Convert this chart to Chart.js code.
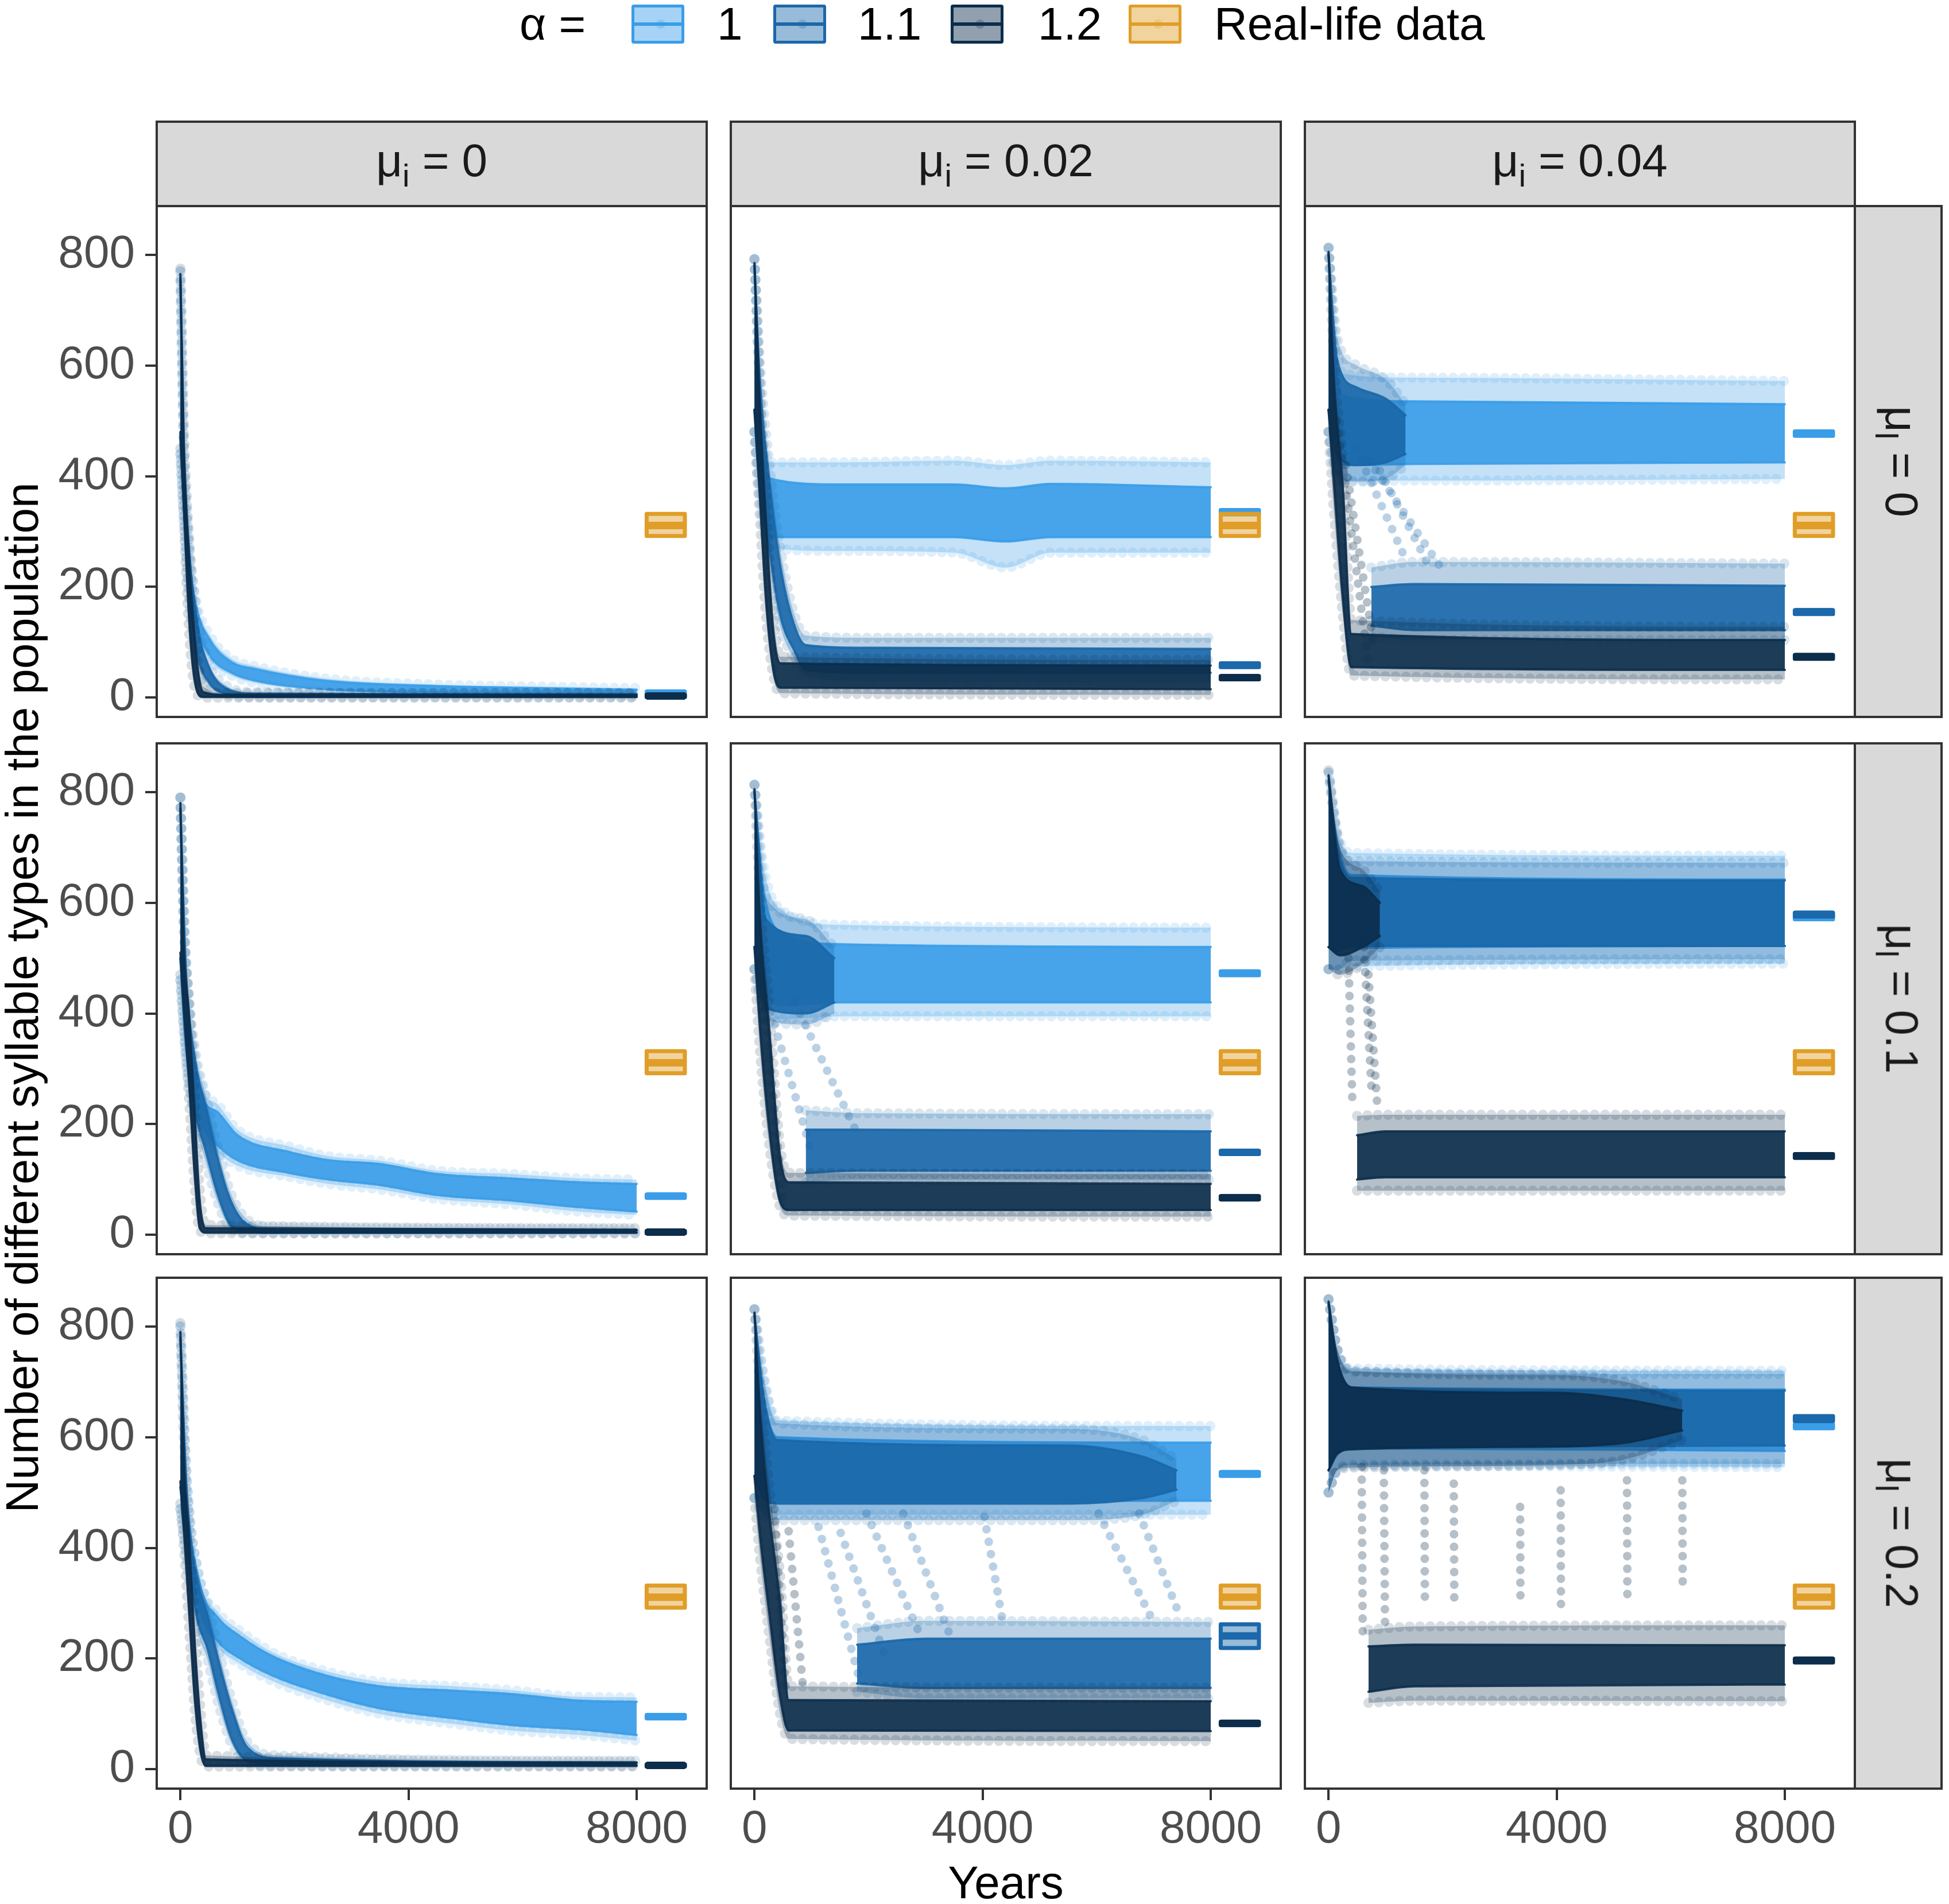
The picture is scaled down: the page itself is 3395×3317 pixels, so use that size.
<!DOCTYPE html>
<html>
<head>
<meta charset="utf-8">
<script src="https://cdn.jsdelivr.net/npm/chart.js@4.4.1/dist/chart.umd.min.js"></script>
<style>
body { margin: 0; width: 3395px; height: 3317px; background: #fff; position: relative; overflow: hidden;
       font-family: 'Liberation Sans', Arial, sans-serif; }
canvas { position: absolute; }
.strip { position: absolute; background: #d9d9d9; border: 4px solid #333; box-sizing: border-box;
         display: flex; align-items: center; justify-content: center; font-size: 80px; color: #1a1a1a; }
.strip sub { font-size: 56px; vertical-align: -18px; }
.strip.side span { display: inline-block; transform: rotate(90deg); white-space: nowrap; }
.lab { position: absolute; font-size: 80px; color: #000; white-space: nowrap; line-height: 90px; }
.key { position: absolute; top: 8px; width: 92px; height: 68px; box-sizing: border-box; border: 5px solid; border-radius: 4px; }
.key i { position: absolute; left: 0; right: 0; top: 26px; height: 6px; }
.key b { position: absolute; left: 38px; top: 21px; width: 16px; height: 16px; border-radius: 8px; }
</style>
</head>
<body>
<div id="page"></div>
<script>
// facet labels and ticks
var innovationRates = ['0', '0.02', '0.04'];   // columns, mu_i
var learningRates = ['0', '0.1', '0.2'];       // rows, mu_l
var alphaLevels = ['1', '1.1', '1.2'];
var yearTicks = [0, 4000, 8000];
var countTicks = [0, 200, 400, 600, 800];

// simulation clouds
// each row: [year, outer low, core low, core high, outer high]
var cloud_i0_l0_a1 = [[0, 440, 470, 755, 770], [60, 330, 350, 420, 440], [150, 200, 215, 260, 275], [270, 128, 138, 168, 178],
  [520, 68, 76, 104, 112], [900, 40, 45, 64, 70], [1300, 27, 31, 52, 57], [2500, 13, 16, 31, 35], [4400, 8, 10, 21, 24],
  [6300, 6, 8, 17, 20], [8000, 5, 7, 14, 17]];
var cloud_i0_l0_a11 = [[0, 440, 470, 755, 770], [60, 320, 345, 440, 460], [150, 180, 200, 270, 290], [300, 65, 78, 130, 145],
  [500, 22, 28, 55, 62], [800, 5, 7, 17, 22], [1300, 1, 2, 7, 10], [8000, 1, 2, 5, 8]];
var cloud_i0_l0_a12 = [[0, 450, 480, 765, 775], [60, 320, 350, 460, 490], [120, 180, 205, 310, 340], [200, 55, 75, 175, 200],
  [300, 5, 10, 55, 75], [400, 0, 1, 10, 20], [800, 0, 1, 5, 8], [8000, 0, 1, 5, 8]];

var cloud_i002_l0_a1 = [[0, 480, 520, 780, 792], [60, 390, 420, 580, 620], [150, 310, 330, 440, 470], [300, 270, 290, 395, 425],
  [1500, 265, 290, 385, 425], [3500, 262, 290, 385, 428], [4400, 235, 282, 378, 420], [5200, 262, 290, 386, 428], [8000, 262, 290, 380, 425]];
var cloud_i002_l0_a11 = [[0, 480, 520, 780, 792], [100, 380, 420, 560, 600], [250, 250, 280, 400, 430], [450, 130, 150, 240, 270],
  [700, 70, 85, 130, 150], [900, 40, 50, 95, 112], [2000, 30, 45, 90, 108], [8000, 28, 45, 88, 108]];
var cloud_i002_l0_a12 = [[0, 480, 520, 785, 792], [80, 350, 390, 560, 600], [200, 150, 180, 320, 360], [330, 40, 50, 120, 150],
  [450, 8, 18, 62, 74], [8000, 5, 15, 58, 68]];

var cloud_i004_l0_a1 = [[0, 480, 520, 800, 812], [100, 420, 450, 630, 670], [250, 392, 420, 545, 585], [1500, 392, 422, 535, 578],
  [8000, 395, 425, 530, 572]];
var cloud_i004_l0_a11up = [[0, 480, 520, 800, 812], [150, 400, 440, 610, 650], [500, 390, 420, 560, 600], [1000, 395, 425, 540, 575],
  [1350, 420, 440, 510, 530]];
var cloud_i004_l0_a11low = [[750, 110, 130, 200, 235], [1500, 104, 122, 205, 245], [8000, 104, 122, 202, 242]];
var cloud_i004_l0_a12 = [[0, 480, 520, 805, 813], [100, 330, 380, 560, 600], [250, 150, 180, 380, 420], [400, 40, 55, 115, 140],
  [8000, 33, 50, 104, 128]];

var cloud_i0_l01_a1 = [[0, 460, 500, 770, 790], [80, 330, 360, 480, 520], [200, 240, 260, 340, 360], [400, 180, 195, 245, 260],
  [650, 150, 162, 222, 236], [1000, 125, 135, 180, 190], [1900, 105, 112, 150, 160], [2600, 92, 100, 135, 142],
  [3500, 82, 90, 128, 134], [4500, 65, 72, 110, 116], [5800, 55, 62, 102, 110], [7000, 42, 50, 95, 102], [8000, 36, 42, 92, 100]];
var cloud_i0_l01_a11 = [[0, 460, 500, 770, 790], [100, 330, 360, 470, 500], [250, 210, 230, 320, 340], [450, 130, 150, 230, 250],
  [650, 60, 75, 140, 160], [850, 15, 22, 70, 85], [1100, 4, 6, 25, 35], [1600, 3, 4, 10, 15], [8000, 3, 4, 8, 12]];
var cloud_i0_l01_a12 = [[0, 470, 510, 780, 790], [60, 380, 410, 520, 550], [150, 250, 280, 400, 430], [250, 90, 110, 220, 250],
  [340, 8, 12, 60, 80], [450, 3, 4, 12, 18], [8000, 3, 4, 9, 12]];

var cloud_i002_l01_a1 = [[0, 480, 520, 800, 813], [150, 420, 450, 630, 670], [500, 390, 415, 545, 585], [1500, 395, 420, 525, 560],
  [8000, 395, 420, 520, 555]];
var cloud_i002_l01_a11up = [[0, 480, 520, 800, 813], [200, 390, 410, 570, 610], [900, 380, 400, 540, 570], [1400, 400, 420, 500, 520]];
var cloud_i002_l01_a11low = [[900, 95, 112, 190, 225], [1800, 100, 116, 190, 220], [8000, 100, 116, 187, 218]];
var cloud_i002_l01_a12 = [[0, 480, 520, 805, 813], [100, 330, 370, 560, 600], [250, 170, 200, 380, 420], [450, 50, 60, 140, 160],
  [600, 35, 45, 95, 112], [8000, 33, 45, 92, 110]];

var cloud_i004_l01_a1 = [[0, 480, 520, 820, 835], [150, 480, 515, 710, 730], [400, 485, 518, 650, 690], [8000, 490, 522, 642, 685]];
var cloud_i004_l01_a11 = [[0, 480, 520, 820, 835], [150, 478, 512, 700, 720], [400, 495, 522, 645, 675], [8000, 498, 522, 640, 672]];
var cloud_i004_l01_a12up = [[0, 480, 520, 830, 839], [200, 470, 505, 660, 700], [600, 490, 520, 630, 660], [900, 520, 540, 600, 620]];
var cloud_i004_l01_a12low = [[500, 80, 100, 180, 215], [1000, 80, 104, 187, 217], [8000, 80, 104, 187, 217]];

var cloud_i0_l02_a1 = [[0, 470, 510, 780, 800], [100, 400, 430, 520, 545], [340, 280, 290, 335, 345], [650, 222, 232, 275, 285],
  [1050, 190, 200, 240, 250], [1600, 160, 170, 205, 212], [2600, 124, 134, 168, 176], [3500, 100, 110, 150, 158],
  [4800, 82, 92, 142, 150], [5800, 70, 80, 136, 143], [7000, 62, 72, 124, 131], [8000, 52, 62, 122, 130]];
var cloud_i0_l02_a11 = [[0, 470, 510, 780, 800], [120, 370, 400, 480, 510], [300, 250, 270, 340, 360], [470, 200, 220, 280, 300],
  [660, 120, 140, 200, 220], [900, 45, 55, 110, 125], [1170, 12, 16, 40, 50], [1700, 6, 8, 20, 25], [8000, 6, 8, 12, 15]];
var cloud_i0_l02_a12 = [[0, 480, 520, 790, 806], [70, 390, 420, 540, 570], [150, 260, 290, 420, 450], [250, 110, 130, 230, 260],
  [350, 25, 35, 90, 110], [450, 5, 6, 18, 25], [8000, 5, 6, 12, 15]];

var cloud_i002_l02_a1 = [[0, 490, 530, 820, 831], [150, 470, 500, 680, 720], [400, 460, 485, 600, 630], [8000, 460, 485, 590, 620]];
var cloud_i002_l02_a11up = [[0, 490, 530, 820, 831], [150, 460, 490, 680, 710], [400, 450, 480, 595, 625], [5500, 450, 480, 585, 615],
  [6800, 460, 490, 565, 595], [7400, 485, 505, 540, 560]];
var cloud_i002_l02_a11low = [[1800, 140, 155, 225, 255], [3000, 128, 147, 236, 268], [8000, 128, 147, 236, 266]];
var cloud_i002_l02_a12 = [[0, 490, 530, 825, 831], [100, 380, 420, 640, 680], [250, 250, 290, 470, 520], [450, 100, 130, 300, 350],
  [600, 55, 70, 125, 150], [8000, 51, 69, 123, 147]];

var cloud_i004_l02_a1 = [[0, 500, 540, 840, 849], [150, 540, 568, 740, 760], [400, 548, 580, 690, 724], [8000, 546, 575, 686, 720]];
var cloud_i004_l02_a11 = [[0, 500, 540, 840, 849], [150, 540, 572, 740, 758], [400, 550, 582, 689, 718], [8000, 552, 585, 684, 714]];
var cloud_i004_l02_a12up = [[0, 500, 540, 845, 849], [150, 540, 570, 740, 760], [400, 545, 578, 690, 720], [4000, 550, 583, 680, 712],
  [5200, 560, 590, 668, 700], [6200, 595, 612, 648, 668]];
var cloud_i004_l02_a12low = [[700, 120, 140, 222, 252], [1500, 124, 150, 225, 258], [8000, 123, 153, 224, 260]];

// runs dropping from the upper to the lower level: [year start, value start, year end, value end]
var drops_i004_l0_a11 = [[700, 430, 2000, 230], [480, 450, 1350, 250], [900, 410, 1750, 240]];
var drops_i004_l0_a12 = [[150, 500, 700, 60], [300, 420, 800, 90]];
var drops_i002_l01_a11 = [[700, 420, 1770, 190], [350, 380, 1000, 150]];
var drops_i002_l01_a12 = [[100, 500, 500, 60]];
var drops_i004_l01_a12 = [[350, 500, 420, 230], [620, 520, 760, 250], [700, 470, 850, 240]];
var drops_i002_l02_a11 = [[1124, 438, 1835, 165], [1512, 427, 2287, 206], [1964, 462, 2933, 236], [2610, 462, 3450, 236],
  [4031, 456, 4354, 266], [6034, 462, 6938, 278], [6744, 462, 7455, 278]];
var drops_i002_l02_a12 = [[350, 470, 550, 140], [600, 430, 850, 150]];
var drops_i004_l02_a12 = [[581, 546, 600, 236], [969, 540, 990, 266], [1680, 540, 1690, 296], [2196, 516, 2205, 296],
  [3359, 474, 3365, 296], [4070, 504, 4075, 296], [5233, 522, 5240, 296], [6202, 522, 6210, 319]];

// final-state boxplots per alpha: [q1, median, q3]
var final_i0_l0 = [[6, 8, 11], [1, 3, 5], [1, 3, 5]];
var final_i002_l0 = [[331, 335, 339], [55, 59, 62], [33, 36, 39]];
var final_i004_l0 = [[473, 477, 481], [151, 155, 158], [70, 74, 77]];
var final_i0_l01 = [[67, 70, 73], [3, 5, 7], [3, 5, 7]];
var final_i002_l01 = [[469, 473, 476], [146, 149, 152], [64, 67, 70]];
var final_i004_l01 = [[570, 574, 577], [575, 579, 582], [139, 143, 146]];
var final_i0_l02 = [[92, 95, 98], [5, 7, 9], [5, 7, 9]];
var final_i002_l02 = [[530, 534, 537], [219, 241, 262], [80, 83, 86]];
var final_i004_l02 = [[616, 620, 623], [629, 634, 638], [193, 197, 200]];
var realLifeBox = [292, 311, 332];
var boxYears = [8175, 8845];

var alphaColors = ['58,157,232', '27,104,170', '12,45,75'];
var realColor = '224,158,40';

// panel layout (pixels)
var colLeft = [271, 1271, 2271], rowTop = [357, 1293, 2224];
var panelW = 962, panelH = 894, yAxisW = 271, xAxisH = 122;

var panels = [
  {row: 0, col: 0, clouds: [[0, cloud_i0_l0_a1], [1, cloud_i0_l0_a11], [2, cloud_i0_l0_a12]], drops: [], boxes: final_i0_l0},
  {row: 0, col: 1, clouds: [[0, cloud_i002_l0_a1], [1, cloud_i002_l0_a11], [2, cloud_i002_l0_a12]], drops: [], boxes: final_i002_l0},
  {row: 0, col: 2, clouds: [[0, cloud_i004_l0_a1], [1, cloud_i004_l0_a11up], [1, cloud_i004_l0_a11low], [2, cloud_i004_l0_a12]],
   drops: [[1, drops_i004_l0_a11], [2, drops_i004_l0_a12]], boxes: final_i004_l0},
  {row: 1, col: 0, clouds: [[0, cloud_i0_l01_a1], [1, cloud_i0_l01_a11], [2, cloud_i0_l01_a12]], drops: [], boxes: final_i0_l01},
  {row: 1, col: 1, clouds: [[0, cloud_i002_l01_a1], [1, cloud_i002_l01_a11up], [1, cloud_i002_l01_a11low], [2, cloud_i002_l01_a12]],
   drops: [[1, drops_i002_l01_a11], [2, drops_i002_l01_a12]], boxes: final_i002_l01},
  {row: 1, col: 2, clouds: [[0, cloud_i004_l01_a1], [1, cloud_i004_l01_a11], [2, cloud_i004_l01_a12up], [2, cloud_i004_l01_a12low]],
   drops: [[2, drops_i004_l01_a12]], boxes: final_i004_l01},
  {row: 2, col: 0, clouds: [[0, cloud_i0_l02_a1], [1, cloud_i0_l02_a11], [2, cloud_i0_l02_a12]], drops: [], boxes: final_i0_l02},
  {row: 2, col: 1, clouds: [[0, cloud_i002_l02_a1], [1, cloud_i002_l02_a11up], [1, cloud_i002_l02_a11low], [2, cloud_i002_l02_a12]],
   drops: [[1, drops_i002_l02_a11], [2, drops_i002_l02_a12]], boxes: final_i002_l02},
  {row: 2, col: 2, clouds: [[0, cloud_i004_l02_a1], [1, cloud_i004_l02_a11], [2, cloud_i004_l02_a12up], [2, cloud_i004_l02_a12low]],
   drops: [[2, drops_i004_l02_a12]], boxes: final_i004_l02}
];

function rgba(rgb, a) { return 'rgba(' + rgb + ',' + a + ')'; }

function lineSet(points, color, width) {
  return {data: points, showLine: true, borderColor: color, borderWidth: width, pointRadius: 0, fill: false,
          clip: 0, cubicInterpolationMode: 'monotone', borderJoinStyle: 'round'};
}

// a cloud = faint outer band with dotted (circle-like) edges + dense core band
function cloudSets(rows, rgb) {
  var sets = [];
  var layers = [
    {lo: 1, hi: 4, fillA: 0.3, lineA: 0.16, width: 18, dash: [0, 18]},
    {lo: 2, hi: 3, fillA: 0.9, lineA: 0.9, width: 4, dash: []}
  ];
  layers.forEach(function (l) {
    var bottom = lineSet(rows.map(function (r) { return {x: r[0], y: r[l.lo]}; }), rgba(rgb, l.lineA), l.width);
    var top = lineSet(rows.map(function (r) { return {x: r[0], y: r[l.hi]}; }), rgba(rgb, l.lineA), l.width);
    bottom.borderDash = top.borderDash = l.dash;
    bottom.borderCapStyle = top.borderCapStyle = 'round';
    top.fill = '-1';
    top.backgroundColor = rgba(rgb, l.fillA);
    sets.push(bottom, top);
  });
  return sets;
}

function dropSet(t, rgb) {
  var s = lineSet([{x: t[0], y: t[1]}, {x: t[2], y: t[3]}], rgba(rgb, 0.3), 15);
  s.borderDash = [0, 22];
  s.borderCapStyle = 'round';
  s.cubicInterpolationMode = 'default';
  return s;
}

function boxSets(q, rgb) {
  var x0 = boxYears[0], x1 = boxYears[1];
  var low = lineSet([{x: x0, y: q[0]}, {x: x1, y: q[0]}], 'rgba(0,0,0,0)', 0);
  var high = lineSet([{x: x0, y: q[2]}, {x: x1, y: q[2]}], 'rgba(0,0,0,0)', 0);
  high.fill = '-1';
  high.backgroundColor = rgba(rgb, 0.45);
  var outline = lineSet([{x: x0, y: q[0]}, {x: x1, y: q[0]}, {x: x1, y: q[2]}, {x: x0, y: q[2]}, {x: x0, y: q[0]}], rgba(rgb, 1), 7);
  outline.cubicInterpolationMode = 'default';
  outline.borderCapStyle = 'round';
  var median = lineSet([{x: x0, y: q[1]}, {x: x1, y: q[1]}], rgba(rgb, 1), 13);
  median.cubicInterpolationMode = 'default';
  return [low, high, outline, median];
}

var panelBorder = {
  id: 'panelBorder',
  afterDraw: function (chart) {
    var a = chart.chartArea, ctx = chart.ctx;
    ctx.save();
    ctx.strokeStyle = '#333333';
    ctx.lineWidth = 4;
    ctx.strokeRect(a.left + 2, a.top + 2, a.right - a.left - 4, a.bottom - a.top - 4);
    ctx.restore();
  }
};

var tickFont = {family: 'Liberation Sans', size: 80};
var page = document.getElementById('page');

panels.forEach(function (p) {
  var datasets = [];
  p.clouds.forEach(function (c) { datasets = datasets.concat(cloudSets(c[1], alphaColors[c[0]])); });
  p.drops.forEach(function (d) {
    d[1].forEach(function (t) { datasets.push(dropSet(t, alphaColors[d[0]])); });
  });
  p.boxes.forEach(function (q, i) { datasets = datasets.concat(boxSets(q, alphaColors[i])); });
  datasets = datasets.concat(boxSets(realLifeBox, realColor));
  // later datasets on top
  datasets.forEach(function (d, i) { d.order = -i; });

  var showX = p.row === 2, showY = p.col === 0;
  var left = showY ? 0 : colLeft[p.col];
  var w = colLeft[p.col] + panelW - left;
  var h = panelH + (showX ? xAxisH : 0);
  var canvas = document.createElement('canvas');
  canvas.width = w; canvas.height = h;
  canvas.style.left = left + 'px'; canvas.style.top = rowTop[p.row] + 'px';
  canvas.style.width = w + 'px'; canvas.style.height = h + 'px';
  page.appendChild(canvas);

  new Chart(canvas.getContext('2d'), {
    type: 'scatter',
    data: {datasets: datasets},
    options: {
      responsive: false, animation: false, devicePixelRatio: 1,
      layout: {padding: 0, autoPadding: false},
      plugins: {legend: {display: false}, tooltip: {enabled: false}},
      scales: {
        x: {
          type: 'linear', min: -435, max: 9248, display: showX,
          afterBuildTicks: function (axis) { axis.ticks = yearTicks.map(function (v) { return {value: v}; }); },
          afterFit: function (axis) {
            axis.height = showX ? xAxisH : 0;
            axis.paddingLeft = axis.paddingRight = 0;
          },
          grid: {drawOnChartArea: false, drawTicks: true, tickLength: 18, color: '#333333', lineWidth: 4},
          border: {display: false},
          ticks: {font: tickFont, color: '#4d4d4d', padding: 4, maxRotation: 0, autoSkip: false,
                  callback: function (v) { return String(v); }}
        },
        y: {
          type: 'linear', min: -37, max: 890, display: showY,
          afterBuildTicks: function (axis) { axis.ticks = countTicks.map(function (v) { return {value: v}; }); },
          afterFit: function (axis) {
            axis.width = showY ? yAxisW : 0;
            axis.paddingTop = axis.paddingBottom = 0;
          },
          grid: {drawOnChartArea: false, drawTicks: true, tickLength: 18, color: '#333333', lineWidth: 4},
          border: {display: false},
          ticks: {font: tickFont, color: '#4d4d4d', padding: 18, autoSkip: false,
                  callback: function (v) { return String(v); }}
        }
      }
    },
    plugins: [panelBorder]
  });
});

// facet strips
innovationRates.forEach(function (v, c) {
  var d = document.createElement('div');
  d.className = 'strip';
  d.style.cssText = 'left:' + colLeft[c] + 'px;top:210px;width:' + panelW + 'px;height:151px;';
  d.innerHTML = '<span>\u03bc<sub>i</sub> = ' + v + '</span>';
  page.appendChild(d);
});
learningRates.forEach(function (v, r) {
  var d = document.createElement('div');
  d.className = 'strip side';
  d.style.cssText = 'left:3229px;top:' + rowTop[r] + 'px;width:155px;height:' + panelH + 'px;';
  d.innerHTML = '<span>\u03bc<sub>l</sub> = ' + v + '</span>';
  page.appendChild(d);
});

// axis titles
var xt = document.createElement('div');
xt.className = 'lab';
xt.style.cssText = 'left:271px;width:2962px;text-align:center;top:3235px;';
xt.textContent = 'Years';
page.appendChild(xt);
var yt = document.createElement('div');
yt.className = 'lab';
yt.style.cssText = 'left:-1361px;width:2800px;text-align:center;top:1693px;transform:rotate(-90deg);';
yt.textContent = 'Number of different syllable types in the population';
page.appendChild(yt);

// legend
var legendItems = [
  {rgb: alphaColors[0], label: alphaLevels[0], key: 1100, text: 1249},
  {rgb: alphaColors[1], label: alphaLevels[1], key: 1347, text: 1494},
  {rgb: alphaColors[2], label: alphaLevels[2], key: 1656, text: 1808},
  {rgb: realColor, label: 'Real-life data', key: 1966, text: 2115}
];
var lt = document.createElement('div');
lt.className = 'lab';
lt.style.cssText = 'left:905px;top:-3px;';
lt.textContent = '\u03b1 =';
page.appendChild(lt);
legendItems.forEach(function (it) {
  var k = document.createElement('div');
  k.className = 'key';
  k.style.cssText = 'left:' + it.key + 'px;border-color:' + rgba(it.rgb, 1) + ';background:' + rgba(it.rgb, 0.45) + ';';
  k.innerHTML = '<i style="background:' + rgba(it.rgb, 1) + '"></i><b style="background:' + rgba(it.rgb, 0.25) + '"></b>';
  page.appendChild(k);
  var t = document.createElement('div');
  t.className = 'lab';
  t.style.cssText = 'left:' + it.text + 'px;top:-3px;';
  t.textContent = it.label;
  page.appendChild(t);
});
</script>
</body>
</html>
